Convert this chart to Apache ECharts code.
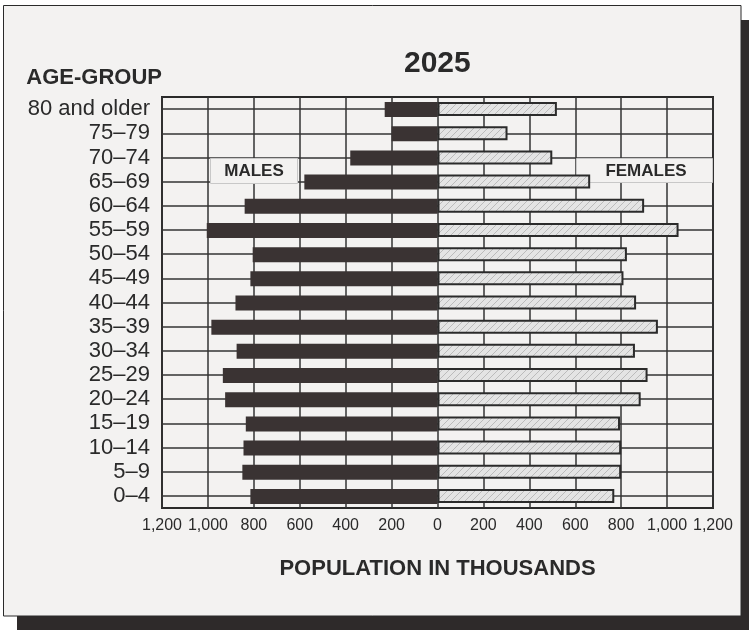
<!DOCTYPE html>
<html>
<head>
<meta charset="utf-8">
<script src="https://cdn.jsdelivr.net/npm/echarts@6/dist/echarts.min.js"></script>
<style>
html,body{margin:0;padding:0;background:#fff;}
#chart{width:749px;height:630px;}
</style>
</head>
<body>
<div id="chart"></div>
<script>
// Data (bottom to top)
const ageGroups = ['0–4','5–9','10–14','15–19','20–24','25–29','30–34','35–39','40–44','45–49','50–54','55–59','60–64','65–69','70–74','75–79','80 and older'];
const males   = [815, 850, 845, 835, 925, 935, 875, 985, 880, 815, 805, 1005, 840, 580, 380, 200, 230];
const females = [770, 800, 800, 795, 885, 915, 860, 960, 865, 810, 825, 1050, 900, 665, 500, 305, 520];
const xMin = -1200, xMax = 1200, xStep = 200;
const titleText = '2025';
const yTitle = 'AGE-GROUP';
const xTitle = 'POPULATION IN THOUSANDS';
const leftLabel = 'MALES';
const rightLabel = 'FEMALES';

const FONT = '"Liberation Sans", Arial, Helvetica, sans-serif';

// hatch pattern
const pc = document.createElement('canvas');
pc.width = 7; pc.height = 7;
const px = pc.getContext('2d');
px.fillStyle = '#e4e4e4';
px.fillRect(0, 0, 7, 7);
px.strokeStyle = '#b0b0b0';
px.lineWidth = 0.8;
px.beginPath();
px.moveTo(-1, 8); px.lineTo(8, -1);
px.moveTo(-1, 1); px.lineTo(1, -1);
px.moveTo(6, 8); px.lineTo(8, 6);
px.stroke();

const chart = echarts.init(document.getElementById('chart'), null, {renderer: 'canvas'});

const option = {
  backgroundColor: '#ffffff',
  animation: false,
  title: {
    text: titleText,
    left: 399, top: 44,
    textStyle: {fontFamily: FONT, fontSize: 30, fontWeight: 'bold', color: '#2a2a2a'}
  },
  grid: {
    left: 162, right: 36, top: 97, bottom: 122,
    show: true, borderColor: '#2a2a2a', borderWidth: 2, backgroundColor: 'transparent'
  },
  xAxis: {
    type: 'value', min: xMin, max: xMax, interval: xStep,
    axisLine: {show: false}, axisTick: {show: false},
    splitLine: {show: true, lineStyle: {color: '#333', width: 1.5}},
    axisLabel: {
      margin: 10, fontFamily: FONT, fontSize: 16, color: '#2a2a2a',
      formatter: v => Math.abs(v).toLocaleString('en-US')
    },
    name: xTitle, nameLocation: 'middle', nameGap: 50,
    nameTextStyle: {fontFamily: FONT, fontSize: 22, fontWeight: 'bold', color: '#2a2a2a'}
  },
  yAxis: {
    type: 'category', data: ageGroups,
    axisLine: {show: false, onZero: false}, axisTick: {show: false},
    splitLine: {show: true, alignWithLabel: true, lineStyle: {color: '#333', width: 1.5}},
    axisLabel: {interval: 0, margin: 12, fontFamily: FONT, fontSize: 22, color: '#2a2a2a'},
    name: yTitle, nameLocation: 'end', nameGap: 8,
    nameTextStyle: {fontFamily: FONT, fontSize: 22, fontWeight: 'bold', color: '#2a2a2a', align: 'right', verticalAlign: 'bottom'}
  },
  graphic: [
    {type: 'rect', z: -20, silent: true, shape: {x: 17, y: 20, width: 732, height: 610}, style: {fill: '#2e2a2a'}},
    {type: 'rect', z: -19, silent: true, shape: {x: 3.5, y: 5.5, width: 737.5, height: 610.5}, style: {fill: '#f3f2f1', stroke: '#2a2a2a', lineWidth: 1}},
    {type: 'rect', z: 1, silent: true, shape: {x: 210.5, y: 158.5, width: 87, height: 25}, style: {fill: '#f3f2f1', stroke: '#c8c8c8', lineWidth: 1}},
    {type: 'text', z: 1, silent: true, x: 254, y: 171, style: {text: leftLabel, fontFamily: FONT, fontSize: 17, fontWeight: 'bold', fill: '#2a2a2a', align: 'center', verticalAlign: 'middle'}},
    {type: 'rect', z: 1, silent: true, shape: {x: 576.5, y: 158.5, width: 136, height: 24}, style: {fill: '#f3f2f1', stroke: '#c8c8c8', lineWidth: 1}},
    {type: 'text', z: 1, silent: true, x: 646, y: 171, style: {text: rightLabel, fontFamily: FONT, fontSize: 17, fontWeight: 'bold', fill: '#2a2a2a', align: 'center', verticalAlign: 'middle'}}
  ],
  series: [
    {
      name: 'Males', type: 'bar', z: 5, barWidth: 15, barGap: '-100%',
      data: males.map(v => -v),
      itemStyle: {color: '#3a3333'}
    },
    {
      name: 'Females', type: 'bar', z: 5, barWidth: 14, barGap: '-100%',
      data: females,
      itemStyle: {color: {image: pc, repeat: 'repeat'}, borderColor: '#2b2b2b', borderWidth: 2}
    }
  ]
};
chart.setOption(option);
</script>
</body>
</html>
